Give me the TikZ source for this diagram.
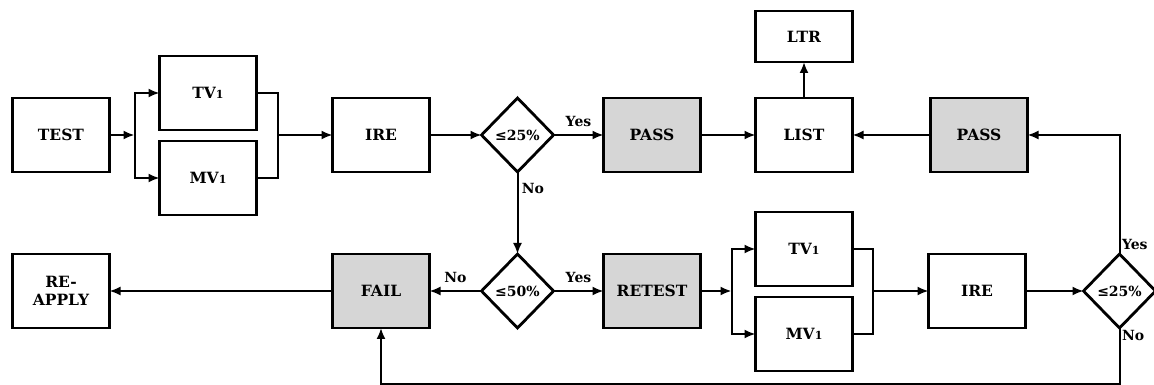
\documentclass[tikz,border=0pt]{standalone}
\usepackage{fontspec}
\setmainfont{DejaVu Serif}
\usetikzlibrary{graphs, positioning, quotes, shapes.geometric, arrows.meta}
\newcommand{\smallone}{{\fontsize{11}{11}\selectfont 1}}
\tikzset{
	box/.style={draw, line width=2.8pt, outer sep=0pt, minimum width=97pt, minimum height=74pt, align=center, font=\bfseries\fontsize{15.5}{18}\selectfont},
	greybox/.style={box, fill=black!16},
	choice/.style={draw, diamond, line width=2.8pt, outer sep=0pt, inner sep=0pt, minimum width=72pt, minimum height=74pt, font=\bfseries\fontsize{14}{16}\selectfont},
	link/.style={line width=2pt},
	tagfont/.style={font=\bfseries\fontsize{14}{16}\selectfont},
	tag/.style={tagfont, above=4pt},
	sidetag/.style={tagfont, right, pos=0.2}
}

\begin{document}
\begin{tikzpicture}[x=1pt, y=1pt, node distance=50pt, >={Latex[length=11pt,width=9pt]}]
		\useasboundingbox (0,0) rectangle (1154,385);
		% first run
		\node[box]                                   (test)    at (61,250) {TEST};
		\node[box, right=50pt of test, yshift=42pt]  (tva)     {TV\smallone};
		\node[box, below=11pt of tva]                (mva)     {MV\smallone};
		\node[box, right=223pt of test]              (ire)     {IRE};
		\node[choice, right=52pt of ire]             (da)      {≤25\%};
		\node[greybox, right=of da]                  (passa)   {PASS};
		\node[box, right=55pt of passa]              (list)    {LIST};
		\node[box, minimum height=51pt, above=36pt of list] (ltr) {LTR};
		\node[greybox, right=78pt of list]           (passb)   {PASS};
		% second run
		\node[box]                                   (reapply) at (61,94) {RE-\\APPLY};
		\node[greybox, right=223pt of reapply]       (fail)    {FAIL};
		\node[choice, right=52pt of fail]            (db)      {≤50\%};
		\node[greybox, right=of db]                  (retest)  {RETEST};
		\node[box, right=55pt of retest, yshift=42pt] (tvb)    {TV\smallone};
		\node[box, below=11pt of tvb]                (mvb)     {MV\smallone};
		\node[box, right=76pt of tvb, yshift=-42pt]  (ireb)    {IRE};
		\node[choice, right=58pt of ireb]            (dc)      {≤25\%};
		
		\coordinate[right=25pt of test]     (splita);
		\coordinate[left=55pt of ire]       (joina);
		\coordinate[right=31pt of retest]   (splitb);
		\coordinate[left=56pt of ireb]      (joinb);
		\coordinate[below=56pt of dc.south] (bend);
		
		\graph[edges={link}]{
			(test) -> (splita);
			(joina) -> (ire) -> (da) ->["Yes" tag] (passa) -> (list) -> (ltr);
			(passb) -> (list);
			(da) ->["No" sidetag] (db);
			(db) ->["No" tag] (fail) -> (reapply);
			(db) ->["Yes" tag] (retest) -> (splitb);
			(joinb) -> (ireb) -> (dc);
		};
		
		\draw[link, ->] (splita) |- (tva);
		\draw[link, ->] (splita) |- (mva);
		\draw[link] (tva) -| (joina) |- (mva);
		\draw[link, ->] (splitb) |- (tvb);
		\draw[link, ->] (splitb) |- (mvb);
		\draw[link] (tvb) -| (joinb) |- (mvb);
		\draw[link, ->] (dc) |- node[tagfont, pos=0.04, right, inner sep=1.5pt] {Yes} (passb);
		\draw[link, ->] (dc) -- node[tagfont, pos=0.14, right, inner sep=1.5pt] {No} (bend) -| (fail);
	\end{tikzpicture}
\end{document}
